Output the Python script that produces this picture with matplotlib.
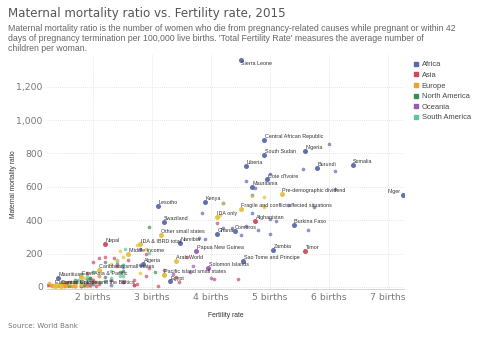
import matplotlib
matplotlib.use('Agg')
import matplotlib.pyplot as plt
from matplotlib.lines import Line2D

# 数据：(名称, 生育率, 孕产妇死亡率)，按大洲分组
africa_names = ["Sierra Leone", "Central African Republic", "Chad", "Nigeria", "South Sudan", "Somalia",
                "Liberia", "Burundi", "Gambia", "DR Congo", "Guinea", "Cote d'Ivoire", "Malawi", "Mauritania",
                "Cameroon", "Mali", "Niger", "Guinea-Bissau", "Kenya", "Eritrea", "Mozambique", "Lesotho",
                "Angola", "Zimbabwe", "Congo", "Benin", "Tanzania", "Swaziland", "Burkina Faso", "Togo",
                "Ethiopia", "Madagascar", "Uganda", "Equatorial Guinea", "Comoros", "Ghana", "Senegal",
                "Sudan", "Gabon", "Rwanda", "Namibia", "Djibouti", "Zambia", "Sao Tome and Principe",
                "Algeria", "South Africa", "Botswana", "Morocco", "Tunisia", "Cabo Verde", "Mauritius",
                "Egypt", "Libya"]
africa_fert = [4.5, 4.9, 6.0, 5.6, 4.9, 6.4, 4.6, 5.8, 5.55, 6.1, 5.0, 4.95, 4.6, 4.7,
               4.75, 6.1, 7.25, 4.7, 3.9, 4.2, 5.3, 3.1, 5.75, 3.85, 4.7, 5.0, 5.1, 3.2, 5.4, 4.6,
               4.35, 4.2, 5.65, 4.8, 4.4, 4.1, 5.0, 4.5, 3.8, 3.9, 3.48, 2.8, 5.05, 4.55,
               2.85, 2.4, 2.8, 2.5, 2.2, 2.3, 1.4, 3.3, 2.3]
africa_mmr = [1360, 882, 856, 814, 789, 732, 725, 712, 706, 693, 679, 645, 634, 602,
              596, 587, 553, 549, 510, 501, 489, 487, 477, 443, 442, 405, 398, 389, 371, 368,
              353, 353, 343, 342, 335, 319, 315, 311, 291, 290, 265, 229, 224, 156,
              140, 138, 129, 121, 62, 42, 53, 33, 9]

asia_names = ["Afghanistan", "Yemen", "Nepal", "Timor", "Laos", "Pakistan", "Myanmar", "Bangladesh",
              "India", "Cambodia", "Bhutan", "Indonesia", "Philippines", "North Korea", "Kyrgyzstan",
              "Syria", "Maldives", "Jordan", "Vietnam", "Iraq", "Palestine", "Mongolia", "Turkmenistan",
              "Malaysia", "Uzbekistan", "Georgia", "Tajikistan", "Sri Lanka", "China", "Iran",
              "Azerbaijan", "Armenia", "Brunei", "Thailand", "Oman", "Turkey", "Lebanon", "Bahrain",
              "Qatar", "Kazakhstan", "Saudi Arabia", "South Korea", "Singapore", "UAE", "Japan",
              "Israel", "Kuwait"]
asia_fert = [4.75, 4.1, 2.2, 5.6, 2.9, 3.6, 2.2, 2.1, 2.35, 2.6, 2.0, 2.4, 2.95, 1.9, 3.2,
             2.9, 2.1, 3.4, 1.95, 4.45, 4.05, 2.7, 2.3, 2.0, 2.5, 2.0, 3.45, 2.05, 1.6, 1.7,
             2.0, 1.55, 1.9, 1.5, 2.75, 2.1, 1.7, 2.0, 1.9, 2.7, 2.7, 1.22, 1.25, 1.8, 1.45,
             3.1, 2.05]
asia_mmr = [396, 385, 258, 215, 197, 178, 178, 176, 174, 161, 148, 126, 114, 82, 76,
            68, 68, 58, 54, 50, 45, 44, 42, 40, 36, 36, 32, 30, 27, 25,
            25, 25, 23, 20, 17, 16, 15, 15, 13, 12, 12, 11, 10, 6, 5,
            5, 4]

europe_names = ["Russia", "Ukraine", "Moldova", "Romania", "Albania", "Serbia", "Latvia", "Hungary",
                "Bulgaria", "Bosnia", "Lithuania", "Estonia", "France", "United Kingdom", "Germany",
                "Italy", "Spain", "Poland", "Greece", "Finland", "Sweden", "Norway", "Denmark",
                "Netherlands", "Belgium", "Austria", "Switzerland", "Ireland", "Portugal", "Czechia",
                "Slovakia", "Slovenia", "Croatia", "Belarus", "Macedonia", "Montenegro", "Iceland",
                "Luxembourg", "Malta", "Cyprus"]
europe_fert = [1.8, 1.5, 1.25, 1.5, 1.7, 1.45, 1.6, 1.45, 1.55, 1.3, 1.7, 1.55, 1.95, 1.8, 1.5,
               1.35, 1.35, 1.3, 1.3, 1.65, 1.85, 1.7, 1.7, 1.65, 1.7, 1.5, 1.55, 1.9, 1.3, 1.55,
               1.4, 1.6, 1.4, 1.7, 1.5, 1.7, 1.8, 1.5, 1.4, 1.35]
europe_mmr = [25, 24, 23, 31, 29, 17, 18, 17, 11, 11, 10, 9, 8, 9, 6,
              4, 5, 3, 3, 3, 4, 5, 6, 7, 7, 4, 5, 8, 10, 4,
              6, 9, 8, 4, 8, 7, 3, 10, 9, 7]

namerica_names = ["Haiti", "Guatemala", "Honduras", "Nicaragua", "Panama", "Dominican Republic", "Jamaica",
                  "Bahamas", "Trinidad and Tobago", "El Salvador", "Saint Lucia", "Saint Vincent", "Cuba",
                  "Mexico", "Belize", "Barbados", "Grenada", "Costa Rica", "United States", "Canada"]
namerica_fert = [2.95, 3.05, 2.5, 2.2, 2.5, 2.45, 2.0, 1.8, 1.8, 1.95, 1.9, 1.95, 1.7,
                 2.2, 2.5, 1.8, 2.1, 1.8, 1.85, 1.6]
namerica_mmr = [359, 88, 129, 150, 94, 92, 89, 80, 63, 54, 48, 45, 39,
                38, 28, 27, 27, 25, 14, 7]

samerica_names = ["Guyana", "Bolivia", "Suriname", "Paraguay", "Venezuela", "Peru", "Ecuador", "Colombia",
                  "Argentina", "Brazil", "Chile", "Uruguay"]
samerica_fert = [2.55, 2.95, 2.4, 2.5, 2.3, 2.45, 2.5, 1.9, 2.3, 1.75, 1.8, 2.0]
samerica_mmr = [229, 206, 155, 132, 95, 68, 64, 64, 52, 44, 22, 15]

oceania_names = ["Papua New Guinea", "Solomon Islands", "Tonga", "Kiribati", "Micronesia", "Vanuatu",
                 "Samoa", "Fiji", "New Zealand", "Australia"]
oceania_fert = [3.75, 3.95, 3.7, 3.65, 3.2, 3.35, 4.0, 2.5, 1.95, 1.8]
oceania_mmr = [215, 114, 124, 90, 100, 78, 51, 30, 11, 6]

# 地区汇总
agg_names = ["Pre-demographic dividend", "Fragile and conflict affected situations", "IDA only",
             "Other small states", "IDA & IBRD total", "Middle income", "Arab World",
             "Pacific island small states", "Caribbean small states", "East Asia & Pacific",
             "Central Europe and the Baltics", "European Union",
             "Heavily indebted poor countries", "Low income", "IDA blend", "Sub-Saharan Africa",
             "Least developed countries", "IDA total", "Lower middle income", "World", "South Asia",
             "Small states", "Early-demographic dividend", "IBRD only", "Middle East & North Africa",
             "Latin America & Caribbean", "Upper middle income", "Late-demographic dividend",
             "Europe & Central Asia", "High income", "North America"]
agg_fert = [5.2, 4.5, 4.1, 3.15, 2.8, 2.6, 3.4, 3.2, 2.1, 1.8, 1.45, 1.35,
            4.9, 4.9, 4.9, 4.7, 4.2, 4.15, 2.75, 2.45, 2.5, 2.9, 2.4, 2.3, 2.8,
            2.1, 1.85, 1.6, 1.8, 1.7, 1.8]
agg_mmr = [560, 470, 418, 310, 255, 200, 156, 73, 100, 59, 8, 8,
           540, 485, 480, 547, 503, 432, 253, 216, 182, 230, 160, 140, 81,
           67, 55, 20, 16, 10, 13]

labeled = ["Sierra Leone", "Central African Republic", "Nigeria", "South Sudan", "Somalia", "Liberia",
           "Burundi", "Cote d'Ivoire", "Mauritania", "Niger", "Kenya", "Lesotho", "Swaziland",
           "Burkina Faso", "Comoros", "Ghana", "Namibia", "Zambia", "Sao Tome and Principe", "Algeria",
           "Mauritius", "Egypt", "Afghanistan", "Nepal", "Timor", "Papua New Guinea", "Solomon Islands",
           "Pre-demographic dividend", "Fragile and conflict affected situations", "IDA only",
           "Other small states", "IDA & IBRD total", "Middle income", "Arab World",
           "Pacific island small states", "Caribbean small states", "East Asia & Pacific",
           "Central Europe and the Baltics", "European Union"]

groups = [
    ("Africa", africa_names, africa_fert, africa_mmr, '#5b68ab'),
    ("Asia", asia_names, asia_fert, asia_mmr, '#cc4a5d'),
    ("Europe", europe_names, europe_fert, europe_mmr, '#f0a030'),
    ("North America", namerica_names, namerica_fert, namerica_mmr, '#3d8c55'),
    ("Oceania", oceania_names, oceania_fert, oceania_mmr, '#9b59b6'),
    ("South America", samerica_names, samerica_fert, samerica_mmr, '#5cc6a0'),
    (None, agg_names, agg_fert, agg_mmr, '#e3c03c'),
]

fig = plt.figure(figsize=(4.8, 3.39), dpi=100)
ax = fig.add_axes([47 / 480, 1 - 289 / 339, (404 - 47) / 480, (289 - 55) / 339])

for name, names, fert, mmr, color in groups:
    fx = [f for n, f in zip(names, fert) if n not in labeled]
    my = [m for n, m in zip(names, mmr) if n not in labeled]
    ax.scatter(fx, my, s=7, color=color, alpha=0.7, linewidths=0, zorder=3)
    lx = [f for n, f in zip(names, fert) if n in labeled]
    ly = [m for n, m in zip(names, mmr) if n in labeled]
    ax.scatter(lx, ly, s=13, color=color, alpha=0.95, linewidths=0, zorder=4)
    for n, f, m in zip(names, fert, mmr):
        if n not in labeled:
            continue
        if n == "Sierra Leone":
            ax.annotate(n, (f, m), xytext=(0.5, -0.5), textcoords='offset points', ha='left', va='top',
                        fontsize=3.9, color='#333333', family='Liberation Sans', zorder=5)
        elif n == "Niger":
            ax.annotate(n, (f, m), xytext=(-1.5, 0.5), textcoords='offset points', ha='right', va='bottom',
                        fontsize=3.9, color='#333333', family='Liberation Sans', zorder=5)
        else:
            ax.annotate(n, (f, m), xytext=(0.3, 0.6), textcoords='offset points', ha='left', va='bottom',
                        fontsize=3.9, color='#333333', family='Liberation Sans', zorder=5)

ax.set_xlim(1.22, 7.27)
ax.set_ylim(-12, 1390)
ax.set_xticks([2, 3, 4, 5, 6, 7])
ax.set_xticklabels(['2 births', '3 births', '4 births', '5 births', '6 births', '7 births'])
ax.set_yticks([0, 200, 400, 600, 800, 1000, 1200])
ax.set_yticklabels(['0', '200', '400', '600', '800', '1,000', '1,200'])
ax.tick_params(length=0, labelsize=6.7, colors='#777777', pad=3)
ax.grid(True, color='#dddddd', linestyle=(0, (1, 1.5)), linewidth=0.6, zorder=0)
for side in ['top', 'right', 'left']:
    ax.spines[side].set_visible(False)
ax.spines['bottom'].set_color('#cccccc')
ax.spines['bottom'].set_linewidth(0.6)
ax.set_xlabel('Fertility rate', fontsize=4.9, family='Liberation Sans', color='#333333', labelpad=7)
ax.set_ylabel('Maternal mortality ratio', fontsize=4.8, family='Liberation Sans', color='#333333')
ax.yaxis.set_label_coords(-0.085, 0.45)

fig.text(8 / 480, 1 - 14 / 339, 'Maternal mortality ratio vs. Fertility rate, 2015', fontsize=8.6,
         color='#555555', va='center', ha='left')
fig.text(8 / 480, 1 - 24 / 339,
         "Maternal mortality ratio is the number of women who die from pregnancy-related causes while pregnant or within 42\n"
         "days of pregnancy termination per 100,000 live births. 'Total Fertility Rate' measures the average number of\n"
         "children per woman.",
         fontsize=6.35, color='#666666', va='top', ha='left', family='Liberation Sans', linespacing=1.12)
fig.text(8 / 480, 1 - 326 / 339, 'Source: World Bank', fontsize=5.1, color='#777777', va='center', ha='left')

handles = [Line2D([], [], marker='s', linestyle='', markersize=2.5, color=c, label=n)
           for n, _, _, _, c in groups if n is not None]
fig.legend(handles=handles, loc='upper left', bbox_to_anchor=(414 / 480, 1 - 61 / 339), frameon=False,
           prop={'family': 'Liberation Sans', 'size': 5.4}, labelcolor='#444444', handlelength=0.6,
           handletextpad=0.4, labelspacing=0.45, borderpad=0, borderaxespad=0)

fig.savefig('out.png', dpi=100)
